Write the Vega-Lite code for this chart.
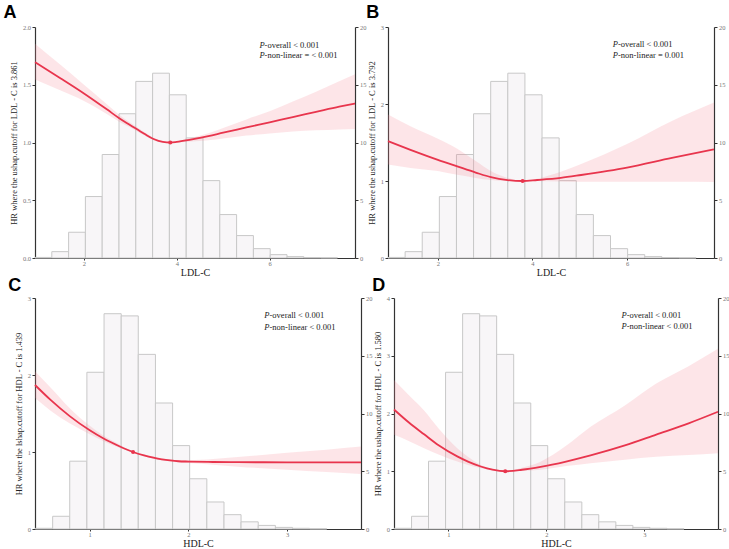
{
  "$schema": "https://vega.github.io/schema/vega-lite/v6.json",
  "background": "white",
  "padding": {"left": 3, "top": 4, "right": 0, "bottom": 0},
  "config": {
    "view": {"stroke": null},
    "font": "Liberation Serif",
    "axis": {"grid": false, "labelFont": "Liberation Serif", "labelFontSize": 6.5, "labelColor": "#777777", "titleFont": "Liberation Serif", "titleFontSize": 8.5, "titleFontWeight": "normal", "titleColor": "#222222", "domainColor": "#333333", "domainWidth": 1.2, "tickColor": "#333333", "tickSize": 3, "labelPadding": 1.5, "titlePadding": 4},
    "axisX": {"titleFont": "Liberation Serif", "titleFontWeight": "normal", "titleFontSize": 10, "titlePadding": 0, "tickSize": 2, "labelPadding": 0.5},
    "title": {"font": "Liberation Sans", "fontSize": 18, "fontWeight": "bold", "anchor": "start", "frame": "bounds", "color": "#000000", "offset": 2}
  },
  "datasets": {
    "histLDL": [
      {"x": 0.945, "xe": 1.307, "pct": 0.05}, {"x": 1.307, "xe": 1.669, "pct": 0.55}, {"x": 1.669, "xe": 2.031, "pct": 2.23},
      {"x": 2.031, "xe": 2.393, "pct": 5.32}, {"x": 2.393, "xe": 2.755, "pct": 8.96}, {"x": 2.755, "xe": 3.117, "pct": 12.49},
      {"x": 3.117, "xe": 3.479, "pct": 15.29}, {"x": 3.479, "xe": 3.841, "pct": 16.0}, {"x": 3.841, "xe": 4.203, "pct": 14.13},
      {"x": 4.203, "xe": 4.565, "pct": 10.4}, {"x": 4.565, "xe": 4.927, "pct": 6.7}, {"x": 4.927, "xe": 5.289, "pct": 3.76},
      {"x": 5.289, "xe": 5.651, "pct": 1.94}, {"x": 5.651, "xe": 6.013, "pct": 0.81}, {"x": 6.013, "xe": 6.375, "pct": 0.29},
      {"x": 6.375, "xe": 6.737, "pct": 0.12}, {"x": 6.737, "xe": 7.099, "pct": 0.04}, {"x": 7.099, "xe": 7.461, "pct": 0.02}
    ],
    "histHDL": [
      {"x": 0.45, "xe": 0.624, "pct": 0.06}, {"x": 0.624, "xe": 0.797, "pct": 1.1}, {"x": 0.797, "xe": 0.971, "pct": 5.87},
      {"x": 0.971, "xe": 1.145, "pct": 13.57}, {"x": 1.145, "xe": 1.319, "pct": 18.64}, {"x": 1.319, "xe": 1.492, "pct": 18.45},
      {"x": 1.492, "xe": 1.666, "pct": 15.12}, {"x": 1.666, "xe": 1.84, "pct": 10.91}, {"x": 1.84, "xe": 2.013, "pct": 7.22},
      {"x": 2.013, "xe": 2.187, "pct": 4.35}, {"x": 2.187, "xe": 2.361, "pct": 2.34}, {"x": 2.361, "xe": 2.534, "pct": 1.24},
      {"x": 2.534, "xe": 2.708, "pct": 0.62}, {"x": 2.708, "xe": 2.882, "pct": 0.31}, {"x": 2.882, "xe": 3.056, "pct": 0.14},
      {"x": 3.056, "xe": 3.229, "pct": 0.06}, {"x": 3.229, "xe": 3.403, "pct": 0.02}
    ],
    "curveA": [
      {"x": 0.945, "hr": 1.695, "lo": 1.545, "hi": 1.855}, {"x": 1.5, "hr": 1.555, "lo": 1.45, "hi": 1.67},
      {"x": 2.0, "hr": 1.425, "lo": 1.36, "hi": 1.5}, {"x": 2.5, "hr": 1.285, "lo": 1.245, "hi": 1.33},
      {"x": 2.76, "hr": 1.21, "lo": 1.18, "hi": 1.24}, {"x": 3.0, "hr": 1.15, "lo": 1.13, "hi": 1.17},
      {"x": 3.3, "hr": 1.075, "lo": 1.06, "hi": 1.09}, {"x": 3.5, "hr": 1.03, "lo": 1.02, "hi": 1.04},
      {"x": 3.7, "hr": 1.005, "lo": 1.0, "hi": 1.012}, {"x": 3.861, "hr": 1.0, "lo": 0.998, "hi": 1.002},
      {"x": 4.0, "hr": 1.005, "lo": 1.0, "hi": 1.012}, {"x": 4.3, "hr": 1.025, "lo": 1.008, "hi": 1.04},
      {"x": 4.68, "hr": 1.055, "lo": 1.02, "hi": 1.08}, {"x": 5.0, "hr": 1.085, "lo": 1.035, "hi": 1.125},
      {"x": 5.5, "hr": 1.13, "lo": 1.06, "hi": 1.2}, {"x": 6.0, "hr": 1.175, "lo": 1.078, "hi": 1.27},
      {"x": 6.5, "hr": 1.22, "lo": 1.095, "hi": 1.355}, {"x": 7.0, "hr": 1.265, "lo": 1.105, "hi": 1.44},
      {"x": 7.5, "hr": 1.31, "lo": 1.113, "hi": 1.53}, {"x": 7.84, "hr": 1.338, "lo": 1.117, "hi": 1.59}
    ],
    "curveB": [
      {"x": 0.945, "hr": 1.517, "lo": 1.214, "hi": 1.864}, {"x": 1.42, "hr": 1.405, "lo": 1.17, "hi": 1.71},
      {"x": 2.0, "hr": 1.275, "lo": 1.13, "hi": 1.55}, {"x": 2.41, "hr": 1.19, "lo": 1.08, "hi": 1.42},
      {"x": 2.8, "hr": 1.11, "lo": 1.04, "hi": 1.26}, {"x": 3.12, "hr": 1.05, "lo": 1.012, "hi": 1.13},
      {"x": 3.475, "hr": 1.012, "lo": 1.0, "hi": 1.04},
      {"x": 3.792, "hr": 1.0, "lo": 0.998, "hi": 1.002}, {"x": 4.1, "hr": 1.013, "lo": 1.0, "hi": 1.03},
      {"x": 4.6, "hr": 1.04, "lo": 0.995, "hi": 1.12}, {"x": 5.03, "hr": 1.078, "lo": 0.99, "hi": 1.22},
      {"x": 6.0, "hr": 1.175, "lo": 0.99, "hi": 1.48}, {"x": 6.95, "hr": 1.3, "lo": 0.99, "hi": 1.78},
      {"x": 7.84, "hr": 1.41, "lo": 0.987, "hi": 2.02}
    ],
    "curveC": [
      {"x": 0.445, "hr": 1.87, "lo": 1.7, "hi": 2.05}, {"x": 0.6, "hr": 1.68, "lo": 1.54, "hi": 1.84},
      {"x": 0.8, "hr": 1.463, "lo": 1.37, "hi": 1.565}, {"x": 1.0, "hr": 1.282, "lo": 1.23, "hi": 1.34},
      {"x": 1.14, "hr": 1.175, "lo": 1.14, "hi": 1.21}, {"x": 1.3, "hr": 1.075, "lo": 1.055, "hi": 1.098},
      {"x": 1.439, "hr": 1.0, "lo": 0.996, "hi": 1.004}, {"x": 1.55, "hr": 0.956, "lo": 0.945, "hi": 0.968},
      {"x": 1.645, "hr": 0.926, "lo": 0.912, "hi": 0.94}, {"x": 1.73, "hr": 0.905, "lo": 0.892, "hi": 0.918},
      {"x": 1.815, "hr": 0.89, "lo": 0.877, "hi": 0.903}, {"x": 1.9, "hr": 0.88, "lo": 0.865, "hi": 0.895},
      {"x": 2.0, "hr": 0.876, "lo": 0.858, "hi": 0.895}, {"x": 2.25, "hr": 0.87, "lo": 0.835, "hi": 0.91},
      {"x": 2.5, "hr": 0.868, "lo": 0.81, "hi": 0.935}, {"x": 3.0, "hr": 0.866, "lo": 0.77, "hi": 0.99},
      {"x": 3.4, "hr": 0.865, "lo": 0.74, "hi": 1.03}, {"x": 3.75, "hr": 0.865, "lo": 0.714, "hi": 1.07}
    ],
    "curveD": [
      {"x": 0.445, "hr": 2.07, "lo": 1.63, "hi": 2.58}, {"x": 0.6, "hr": 1.84, "lo": 1.52, "hi": 2.31},
      {"x": 0.752, "hr": 1.64, "lo": 1.4, "hi": 2.05}, {"x": 0.9, "hr": 1.45, "lo": 1.29, "hi": 1.74},
      {"x": 1.09, "hr": 1.257, "lo": 1.17, "hi": 1.4}, {"x": 1.2, "hr": 1.167, "lo": 1.11, "hi": 1.25},
      {"x": 1.33, "hr": 1.082, "lo": 1.055, "hi": 1.11}, {"x": 1.45, "hr": 1.027, "lo": 1.015, "hi": 1.04},
      {"x": 1.58, "hr": 1.0, "lo": 0.998, "hi": 1.002}, {"x": 1.75, "hr": 1.026, "lo": 1.007, "hi": 1.06},
      {"x": 1.94, "hr": 1.076, "lo": 1.025, "hi": 1.165}, {"x": 2.2, "hr": 1.168, "lo": 1.09, "hi": 1.44},
      {"x": 2.45, "hr": 1.274, "lo": 1.14, "hi": 1.77}, {"x": 2.8, "hr": 1.447, "lo": 1.2, "hi": 2.14},
      {"x": 3.12, "hr": 1.635, "lo": 1.25, "hi": 2.52}, {"x": 3.45, "hr": 1.83, "lo": 1.28, "hi": 2.82},
      {"x": 3.75, "hr": 2.03, "lo": 1.31, "hi": 3.12}
    ],
    "refA": [{"x": 3.861, "hr": 1}],
    "refB": [{"x": 3.792, "hr": 1}],
    "refC": [{"x": 1.439, "hr": 1}],
    "refD": [{"x": 1.58, "hr": 1}],
    "annA": [{"x": 5.78, "y": 1.844, "p": "P", "rest": "-overall < 0.001"}, {"x": 5.78, "y": 1.755, "p": "P", "rest": "-non-linear = < 0.001"}],
    "annB": [{"x": 5.7, "y": 2.774, "p": "P", "rest": "-overall < 0.001"}, {"x": 5.7, "y": 2.631, "p": "P", "rest": "-non-linear = 0.001"}],
    "annC": [{"x": 2.77, "y": 2.774, "p": "P", "rest": "-overall < 0.001"}, {"x": 2.77, "y": 2.627, "p": "P", "rest": "-non-linear < 0.001"}],
    "annD": [{"x": 2.765, "y": 3.7, "p": "P", "rest": "-overall < 0.001"}, {"x": 2.765, "y": 3.509, "p": "P", "rest": "-non-linear < 0.001"}],
    "one": [{"v": 1}]
  },
  "vconcat": [
    {
      "spacing": 0,
      "hconcat": [
        {
          "width": 320, "height": 231,
          "title": {"text": "A", "dx": -6},
          "encoding": {"x": {"field": "x", "type": "quantitative", "scale": {"domain": [0.945, 7.84], "nice": false, "zero": false}, "axis": {"title": "LDL-C", "values": [2, 4, 6], "format": "d"}}},
          "layer": [
            {"data": {"name": "histLDL"}, "mark": {"type": "rect", "fill": "#f8f6f8", "stroke": "#c8c8c8", "strokeWidth": 1},
             "encoding": {
               "x2": {"field": "xe"},
               "y": {"field": "pct", "type": "quantitative", "scale": {"domain": [0, 20], "nice": false}, "axis": {"orient": "right", "title": null, "values": [0, 5, 10, 15, 20]}},
               "y2": {"datum": 0}}},
            {"layer": [
              {"data": {"name": "curveA"}, "mark": {"type": "area", "fill": "#f48a98", "opacity": 0.22, "interpolate": "monotone"},
               "encoding": {"y": {"field": "lo", "type": "quantitative", "scale": {"domain": [0, 2], "nice": false}, "axis": {"title": "HR where the ushap.cutoff for LDL - C is 3.861", "values": [0, 0.5, 1, 1.5, 2], "format": ".1f"}}, "y2": {"field": "hi"}}},
              {"data": {"name": "one"}, "mark": {"type": "rule", "stroke": "#b8b8b8", "strokeWidth": 1.5, "strokeDash": [7, 5]}, "encoding": {"x": {"datum": 0.945}, "x2": {"datum": 7.84}, "y": {"field": "v", "type": "quantitative"}}},
              {"data": {"name": "curveA"}, "mark": {"type": "line", "color": "#e8354d", "strokeWidth": 1.8, "interpolate": "monotone"}, "encoding": {"y": {"field": "hr", "type": "quantitative"}}},
              {"data": {"name": "refA"}, "mark": {"type": "point", "filled": true, "color": "#e8354d", "size": 16, "opacity": 1}, "encoding": {"y": {"field": "hr", "type": "quantitative"}}},
              {"data": {"name": "annA"}, "mark": {"type": "text", "font": "Liberation Serif", "fontSize": 8.5, "fontStyle": "italic", "align": "left", "baseline": "middle", "color": "#222222"}, "encoding": {"y": {"field": "y", "type": "quantitative"}, "text": {"field": "p"}}},
              {"data": {"name": "annA"}, "mark": {"type": "text", "font": "Liberation Serif", "fontSize": 8.5, "align": "left", "baseline": "middle", "dx": 5.2, "color": "#222222"}, "encoding": {"y": {"field": "y", "type": "quantitative"}, "text": {"field": "rest"}}}
            ]}
          ],
          "resolve": {"scale": {"y": "independent"}}
        },
        {
          "width": 326, "height": 231,
          "title": {"text": "B", "dx": -1},
          "encoding": {"x": {"field": "x", "type": "quantitative", "scale": {"domain": [0.945, 7.84], "nice": false, "zero": false}, "axis": {"title": "LDL-C", "values": [2, 4, 6], "format": "d"}}},
          "layer": [
            {"data": {"name": "histLDL"}, "mark": {"type": "rect", "fill": "#f8f6f8", "stroke": "#c8c8c8", "strokeWidth": 1},
             "encoding": {
               "x2": {"field": "xe"},
               "y": {"field": "pct", "type": "quantitative", "scale": {"domain": [0, 20], "nice": false}, "axis": {"orient": "right", "title": null, "values": [0, 5, 10, 15, 20]}},
               "y2": {"datum": 0}}},
            {"layer": [
              {"data": {"name": "curveB"}, "mark": {"type": "area", "fill": "#f48a98", "opacity": 0.22, "interpolate": "monotone"},
               "encoding": {"y": {"field": "lo", "type": "quantitative", "scale": {"domain": [0, 3], "nice": false}, "axis": {"title": "HR where the ushap.cutoff for LDL - C is 3.792", "values": [0, 1, 2, 3], "format": "d"}}, "y2": {"field": "hi"}}},
              {"data": {"name": "one"}, "mark": {"type": "rule", "stroke": "#b8b8b8", "strokeWidth": 1.5, "strokeDash": [7, 5]}, "encoding": {"x": {"datum": 0.945}, "x2": {"datum": 7.84}, "y": {"field": "v", "type": "quantitative"}}},
              {"data": {"name": "curveB"}, "mark": {"type": "line", "color": "#e8354d", "strokeWidth": 1.8, "interpolate": "monotone"}, "encoding": {"y": {"field": "hr", "type": "quantitative"}}},
              {"data": {"name": "refB"}, "mark": {"type": "point", "filled": true, "color": "#e8354d", "size": 16, "opacity": 1}, "encoding": {"y": {"field": "hr", "type": "quantitative"}}},
              {"data": {"name": "annB"}, "mark": {"type": "text", "font": "Liberation Serif", "fontSize": 8.5, "fontStyle": "italic", "align": "left", "baseline": "middle", "color": "#222222"}, "encoding": {"y": {"field": "y", "type": "quantitative"}, "text": {"field": "p"}}},
              {"data": {"name": "annB"}, "mark": {"type": "text", "font": "Liberation Serif", "fontSize": 8.5, "align": "left", "baseline": "middle", "dx": 5.2, "color": "#222222"}, "encoding": {"y": {"field": "y", "type": "quantitative"}, "text": {"field": "rest"}}}
            ]}
          ],
          "resolve": {"scale": {"y": "independent"}}
        }
      ]
    },
    {
      "spacing": 0,
      "hconcat": [
        {
          "width": 326, "height": 231,
          "title": {"text": "C", "dx": -6, "offset": 0},
          "encoding": {"x": {"field": "x", "type": "quantitative", "scale": {"domain": [0.445, 3.75], "nice": false, "zero": false}, "axis": {"title": "HDL-C", "values": [1, 2, 3], "format": "d"}}},
          "layer": [
            {"data": {"name": "histHDL"}, "mark": {"type": "rect", "fill": "#f8f6f8", "stroke": "#c8c8c8", "strokeWidth": 1},
             "encoding": {
               "x2": {"field": "xe"},
               "y": {"field": "pct", "type": "quantitative", "scale": {"domain": [0, 20], "nice": false}, "axis": {"orient": "right", "title": null, "values": [0, 5, 10, 15, 20]}},
               "y2": {"datum": 0}}},
            {"layer": [
              {"data": {"name": "curveC"}, "mark": {"type": "area", "fill": "#f48a98", "opacity": 0.22, "interpolate": "monotone"},
               "encoding": {"y": {"field": "lo", "type": "quantitative", "scale": {"domain": [0, 3], "nice": false}, "axis": {"title": "HR where the lshap.cutoff for HDL - C is 1.439", "values": [0, 1, 2, 3], "format": "d"}}, "y2": {"field": "hi"}}},
              {"data": {"name": "one"}, "mark": {"type": "rule", "stroke": "#b8b8b8", "strokeWidth": 1.5, "strokeDash": [7, 5]}, "encoding": {"x": {"datum": 0.445}, "x2": {"datum": 3.75}, "y": {"field": "v", "type": "quantitative"}}},
              {"data": {"name": "curveC"}, "mark": {"type": "line", "color": "#e8354d", "strokeWidth": 1.8, "interpolate": "monotone"}, "encoding": {"y": {"field": "hr", "type": "quantitative"}}},
              {"data": {"name": "refC"}, "mark": {"type": "point", "filled": true, "color": "#e8354d", "size": 16, "opacity": 1}, "encoding": {"y": {"field": "hr", "type": "quantitative"}}},
              {"data": {"name": "annC"}, "mark": {"type": "text", "font": "Liberation Serif", "fontSize": 8.5, "fontStyle": "italic", "align": "left", "baseline": "middle", "color": "#222222"}, "encoding": {"y": {"field": "y", "type": "quantitative"}, "text": {"field": "p"}}},
              {"data": {"name": "annC"}, "mark": {"type": "text", "font": "Liberation Serif", "fontSize": 8.5, "align": "left", "baseline": "middle", "dx": 5.2, "color": "#222222"}, "encoding": {"y": {"field": "y", "type": "quantitative"}, "text": {"field": "rest"}}}
            ]}
          ],
          "resolve": {"scale": {"y": "independent"}}
        },
        {
          "width": 324, "height": 231,
          "title": {"text": "D", "dx": -1, "offset": 0},
          "encoding": {"x": {"field": "x", "type": "quantitative", "scale": {"domain": [0.445, 3.75], "nice": false, "zero": false}, "axis": {"title": "HDL-C", "values": [1, 2, 3], "format": "d"}}},
          "layer": [
            {"data": {"name": "histHDL"}, "mark": {"type": "rect", "fill": "#f8f6f8", "stroke": "#c8c8c8", "strokeWidth": 1},
             "encoding": {
               "x2": {"field": "xe"},
               "y": {"field": "pct", "type": "quantitative", "scale": {"domain": [0, 20], "nice": false}, "axis": {"orient": "right", "title": null, "values": [0, 5, 10, 15, 20]}},
               "y2": {"datum": 0}}},
            {"layer": [
              {"data": {"name": "curveD"}, "mark": {"type": "area", "fill": "#f48a98", "opacity": 0.22, "interpolate": "monotone"},
               "encoding": {"y": {"field": "lo", "type": "quantitative", "scale": {"domain": [0, 4], "nice": false}, "axis": {"title": "HR where the ushap.cutoff for HDL - C is 1.580", "values": [0, 1, 2, 3, 4], "format": "d"}}, "y2": {"field": "hi"}}},
              {"data": {"name": "one"}, "mark": {"type": "rule", "stroke": "#b8b8b8", "strokeWidth": 1.5, "strokeDash": [7, 5]}, "encoding": {"x": {"datum": 0.445}, "x2": {"datum": 3.75}, "y": {"field": "v", "type": "quantitative"}}},
              {"data": {"name": "curveD"}, "mark": {"type": "line", "color": "#e8354d", "strokeWidth": 1.8, "interpolate": "monotone"}, "encoding": {"y": {"field": "hr", "type": "quantitative"}}},
              {"data": {"name": "refD"}, "mark": {"type": "point", "filled": true, "color": "#e8354d", "size": 16, "opacity": 1}, "encoding": {"y": {"field": "hr", "type": "quantitative"}}},
              {"data": {"name": "annD"}, "mark": {"type": "text", "font": "Liberation Serif", "fontSize": 8.5, "fontStyle": "italic", "align": "left", "baseline": "middle", "color": "#222222"}, "encoding": {"y": {"field": "y", "type": "quantitative"}, "text": {"field": "p"}}},
              {"data": {"name": "annD"}, "mark": {"type": "text", "font": "Liberation Serif", "fontSize": 8.5, "align": "left", "baseline": "middle", "dx": 5.2, "color": "#222222"}, "encoding": {"y": {"field": "y", "type": "quantitative"}, "text": {"field": "rest"}}}
            ]}
          ],
          "resolve": {"scale": {"y": "independent"}}
        }
      ]
    }
  ],
  "spacing": 0
}
